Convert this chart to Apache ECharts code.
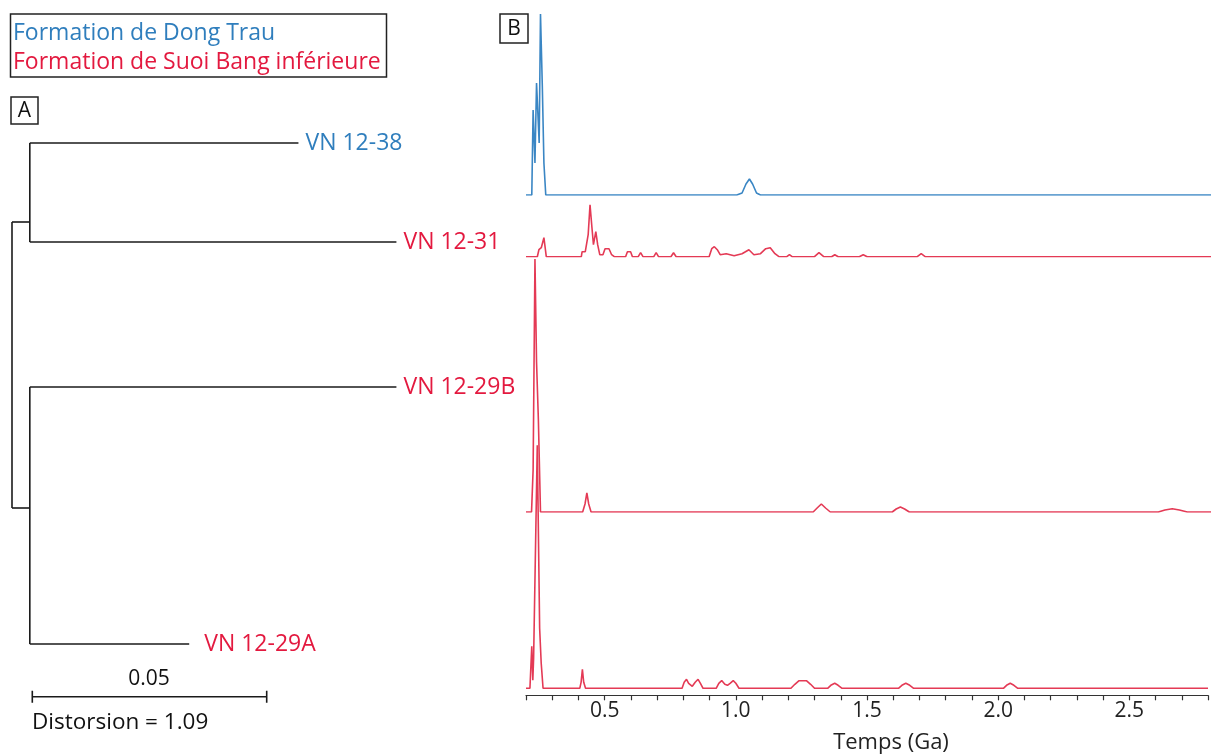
<!DOCTYPE html>
<html><head><meta charset="utf-8">
<script src="https://cdn.jsdelivr.net/npm/echarts@6/dist/echarts.min.js"></script>
<style>html,body{margin:0;padding:0;background:#fff}#c{width:1211px;height:756px}</style>
</head><body><div id="c"></div>
<script>
// ---------------- DATA ----------------
const formations = ['Formation de Dong Trau', 'Formation de Suoi Bang inférieure'];
const samples = ['VN 12-38', 'VN 12-31', 'VN 12-29B', 'VN 12-29A'];
const sampleFormation = [0, 1, 1, 1];
// dendrogram (panel A): branch lengths in distance units
const leafParent = [0, 0, 1, 1];
const leafBranchLength = [0.0573, 0.0782, 0.0782, 0.0340];
const nodeBranchLength = [0.0038, 0.0038];
const scaleBarLength = 0.05;
const scaleBarLabel = '0.05';
const distortionLabel = 'Distorsion = 1.09';
// age spectra (panel B): [age (Ga), relative density]
const kde_VN1238 = [[0.2,0],[0.222,0],[0.227,85],[0.234,32],[0.240,112],[0.250,52],[0.255,181],[0.262,108],[0.268,32],[0.275,0],[1.0,0],[1.02,2],[1.035,11],[1.048,16],[1.06,11],[1.075,2],[1.09,0],[2.8,0]];
const kde_VN1231 = [[0.2,0],[0.243,0],[0.249,7],[0.258,9],[0.268,19],[0.277,0],[0.41,0],[0.413,5],[0.425,5],[0.436,22],[0.443,52],[0.45,30],[0.456,12],[0.465,25],[0.472,12],[0.48,2],[0.492,2],[0.5,8],[0.515,8],[0.525,2],[0.535,0],[0.578,0],[0.585,5],[0.597,5],[0.604,0],[0.626,0],[0.635,4],[0.644,0],[0.685,0],[0.694,4],[0.703,0],[0.75,0],[0.76,4],[0.77,0],[0.895,0],[0.905,8],[0.915,10],[0.926,7],[0.937,2],[0.96,3],[0.99,1],[1.02,3],[1.046,7],[1.065,2],[1.09,3],[1.11,8],[1.127,9],[1.145,3],[1.16,0],[1.19,0],[1.2,2],[1.21,0],[1.295,0],[1.312,4],[1.33,0],[1.36,0],[1.372,2],[1.385,0],[1.465,0],[1.48,2],[1.495,0],[1.685,0],[1.70,3],[1.715,0],[2.8,0]];
const kde_VN1229B = [[0.2,0],[0.221,0],[0.227,42],[0.234,253],[0.240,150],[0.247,92],[0.255,0],[0.415,0],[0.424,8],[0.431,19],[0.438,8],[0.447,0],[1.29,0],[1.305,4],[1.321,8],[1.337,4],[1.355,0],[1.59,0],[1.605,3],[1.621,5],[1.637,3],[1.655,0],[2.6,0],[2.625,2],[2.653,3.3],[2.68,2],[2.71,0],[2.8,0]];
const kde_VN1229A = [[0.2,0],[0.215,0],[0.222,42],[0.226,8],[0.229,30],[0.243,243],[0.252,60],[0.258,25],[0.265,0],[0.405,0],[0.41,6],[0.415,19],[0.42,6],[0.427,0],[0.795,0],[0.803,6],[0.812,9],[0.82,5],[0.834,2],[0.845,6],[0.856,9],[0.865,5],[0.875,0],[0.925,0],[0.935,5],[0.946,7.7],[0.958,4],[0.968,3],[0.978,5],[0.99,7.7],[1.0,5],[1.012,0],[1.21,0],[1.225,4],[1.24,7.5],[1.27,7.5],[1.285,4],[1.3,0],[1.35,0],[1.362,3],[1.377,5],[1.39,3],[1.405,0],[1.62,0],[1.633,3],[1.648,5],[1.663,3],[1.678,0],[2.02,0],[2.032,3],[2.046,5],[2.06,3],[2.075,0],[2.8,0]];
const spectra = [kde_VN1238, kde_VN1231, kde_VN1229B, kde_VN1229A];
const xTickLabels = ['0.5', '1.0', '1.5', '2.0', '2.5'];
const xAxisName = 'Temps (Ga)';

// ---------------- LAYOUT / STYLE ----------------
const FONT = 'Open Sans';
const textColors = ['#2f7ebd', '#e3193f'];
const lineColors = ['#3a86c4', '#e43a55'];
const tree = { left: 12, pxPerUnit: 4688, leafY: [143, 242, 387, 644], nodeY: [222, 508], scaleY: 696.7, scaleX0: 0.00433, tick: 6 };
const spec = { left: 526, pxPerGa: 266.7, xMin: 0.2, xMax: 2.8, baseline: [195, 256.7, 512, 688.3] };

// ---------------- BUILD ----------------
const grids = [], xAxes = [], yAxes = [], series = [];
const treeXMax = 0.1;
grids.push({ left: tree.left, top: 0, width: treeXMax * tree.pxPerUnit, height: 756 });
xAxes.push({ gridIndex: 0, type: 'value', min: 0, max: treeXMax, show: false });
yAxes.push({ gridIndex: 0, type: 'value', min: 0, max: 756, inverse: true, show: false });
const blackLine = { color: '#1a1a1a', width: 1.6 };
function seg(name, pts, extra) {
  series.push(Object.assign({ type: 'line', name, xAxisIndex: 0, yAxisIndex: 0, data: pts, showSymbol: false, symbol: 'none', lineStyle: blackLine, clip: false, silent: true }, extra || {}));
}
seg('root', [[0, tree.nodeY[0]], [0, tree.nodeY[1]]]);
nodeBranchLength.forEach((len, n) => {
  seg('node' + n, [[0, tree.nodeY[n]], [len, tree.nodeY[n]]]);
  const ys = tree.leafY.filter((y, i) => leafParent[i] === n);
  seg('nodev' + n, [[len, Math.min(...ys)], [len, Math.max(...ys)]]);
});
samples.forEach((s, i) => {
  const x0 = nodeBranchLength[leafParent[i]];
  seg(s, [[x0, tree.leafY[i]], [x0 + leafBranchLength[i], tree.leafY[i]]], {
    endLabel: { show: true, formatter: s, color: textColors[sampleFormation[i]], fontFamily: FONT, fontSize: 23, distance: i === 3 ? 15 : 7 }
  });
});
const sx0 = tree.scaleX0, sx1 = tree.scaleX0 + scaleBarLength, sy = tree.scaleY, t = tree.tick;
seg('scale', [[sx0, sy - t], [sx0, sy + t], [sx0, sy], [sx1, sy], [sx1, sy - t], [sx1, sy + t]]);

spectra.forEach((d, i) => {
  const ymax = Math.max(...d.map(p => p[1]));
  const gi = i + 1;
  grids.push({ left: spec.left, width: (spec.xMax - spec.xMin) * spec.pxPerGa, top: spec.baseline[i] - ymax, height: ymax });
  const last = i === spectra.length - 1;
  xAxes.push({
    gridIndex: gi, type: 'value', min: spec.xMin, max: spec.xMax, interval: 0.1,
    show: last, splitLine: { show: false },
    axisLine: { show: last, onZero: false, lineStyle: { color: '#333', width: 1.2 } },
    axisTick: { show: last, length: 5, lineStyle: { color: '#333', width: 1.2 } },
    axisLabel: {
      show: last, color: '#222', fontFamily: FONT, fontSize: 21, margin: 5,
      formatter: v => { const r = Math.round(v * 10); return r % 5 === 0 ? (xTickLabels.find(l => Math.round(parseFloat(l) * 10) === r) || '') : ''; }
    },
    name: last ? xAxisName : '', nameLocation: 'middle', nameGap: 36,
    nameTextStyle: { color: '#222', fontFamily: FONT, fontSize: 22, padding: [0, 0, 0, 48] },
    offset: last ? 7 : 0, position: 'bottom'
  });
  yAxes.push({ gridIndex: gi, type: 'value', min: 0, max: ymax, show: false });
  series.push({
    type: 'line', name: samples[i], xAxisIndex: gi, yAxisIndex: gi, data: d,
    showSymbol: false, symbol: 'none', silent: true,
    lineStyle: { color: lineColors[sampleFormation[i]], width: 1.6 }
  });
});

const graphic = [
  { type: 'rect', shape: { x: 10.5, y: 14, width: 376, height: 63 }, style: { fill: 'none', stroke: '#222', lineWidth: 1.5 } },
  { type: 'text', x: 13, y: 33, style: { text: formations[0], fill: textColors[0], font: '23px "' + FONT + '"', verticalAlign: 'middle' } },
  { type: 'text', x: 13, y: 62, style: { text: formations[1], fill: textColors[1], font: '23px "' + FONT + '"', verticalAlign: 'middle' } },
  { type: 'rect', shape: { x: 11, y: 97, width: 27, height: 27 }, style: { fill: 'none', stroke: '#222', lineWidth: 1.5 } },
  { type: 'text', x: 24.5, y: 111, style: { text: 'A', fill: '#111', font: '21px "' + FONT + '"', align: 'center', verticalAlign: 'middle' } },
  { type: 'rect', shape: { x: 500, y: 14, width: 28, height: 29 }, style: { fill: 'none', stroke: '#222', lineWidth: 1.5 } },
  { type: 'text', x: 514, y: 29, style: { text: 'B', fill: '#111', font: '21px "' + FONT + '"', align: 'center', verticalAlign: 'middle' } },
  { type: 'text', x: 149, y: 679, style: { text: scaleBarLabel, fill: '#111', font: '21px "' + FONT + '"', align: 'center', verticalAlign: 'middle' } },
  { type: 'text', x: 32, y: 723, style: { text: distortionLabel, fill: '#111', font: '22.5px "' + FONT + '"', verticalAlign: 'middle' } }
];

const chart = echarts.init(document.getElementById('c'), null, { renderer: 'canvas' });
chart.setOption({
  animation: false, backgroundColor: '#fff',
  grid: grids, xAxis: xAxes, yAxis: yAxes, series, graphic
});
</script></body></html>
